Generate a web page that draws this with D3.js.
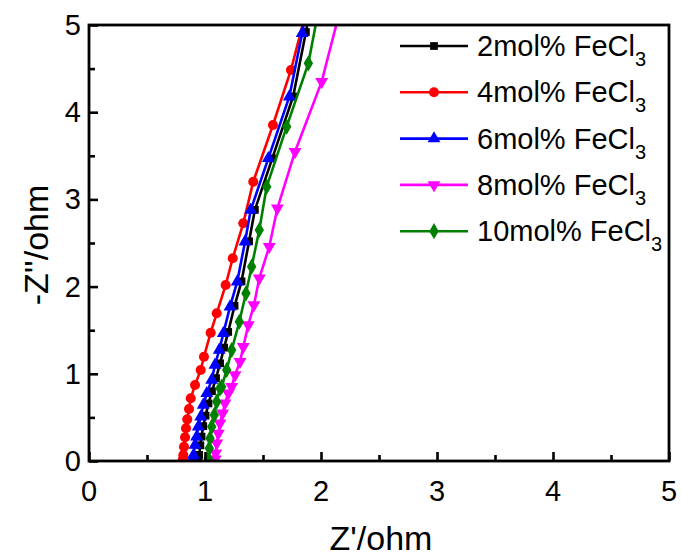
<!DOCTYPE html>
<html><head><meta charset="utf-8">
<script src="https://cdn.jsdelivr.net/npm/d3@7"></script>
<style>body{margin:0;background:#fff}svg{display:block}text{font-family:"Liberation Sans",Arial,sans-serif;fill:#000}</style>
</head><body>
<svg id="c" width="681" height="558"></svg>
<script>
const seriesNames = ["2mol% FeCl", "4mol% FeCl", "6mol% FeCl", "8mol% FeCl", "10mol% FeCl"];
const seriesColors = ["#000000", "#ff0000", "#0000ff", "#ff00ff", "#008000"];
const seriesSymbols = ["square", "circle", "triangle", "triangleDown", "diamond"];
const xTicks = [0, 1, 2, 3, 4, 5];
const yTicks = [0, 1, 2, 3, 4, 5];

// 2mol%
const x2 = [0.945,0.95,0.96,0.97,0.985,1.005,1.03,1.06,1.095,1.13,1.165,1.20,1.255,1.315,1.38,1.43,1.58,1.76,1.87,1.95];
const y2 = [0.02,0.07,0.18,0.28,0.40,0.52,0.66,0.80,0.95,1.12,1.30,1.48,1.78,2.06,2.52,2.88,3.47,4.18,4.92,5.5];
// 4mol%
const x4 = [0.81,0.813,0.819,0.828,0.836,0.847,0.862,0.877,0.914,0.963,0.991,1.049,1.101,1.178,1.239,1.330,1.416,1.586,1.741,1.88];
const y4 = [0.02,0.069,0.164,0.272,0.375,0.478,0.596,0.719,0.872,1.044,1.196,1.471,1.694,2.018,2.325,2.726,3.203,3.853,4.484,5.2];
// 6mol%
const x6 = [0.895,0.901,0.914,0.928,0.942,0.963,0.985,1.015,1.058,1.086,1.123,1.158,1.216,1.278,1.345,1.394,1.546,1.727,1.838,1.90];
const y6 = [0.02,0.069,0.183,0.278,0.393,0.508,0.642,0.776,0.929,1.101,1.273,1.464,1.770,2.056,2.515,2.878,3.471,4.178,4.905,5.4];
// 8mol%
const x8 = [1.088,1.092,1.101,1.115,1.129,1.152,1.172,1.201,1.230,1.259,1.302,1.330,1.373,1.422,1.468,1.554,1.624,1.776,2.006,2.17];
const y8 = [0.02,0.088,0.203,0.317,0.432,0.547,0.662,0.776,0.852,0.986,1.139,1.31,1.56,1.789,2.095,2.458,2.898,3.547,4.35,5.2];
// 10mol%
const x10 = [1.025,1.029,1.037,1.043,1.058,1.080,1.101,1.129,1.144,1.187,1.230,1.296,1.353,1.402,1.468,1.532,1.704,1.891,1.99];
const y10 = [0.0,0.031,0.146,0.26,0.394,0.528,0.680,0.834,0.852,1.044,1.273,1.597,1.923,2.228,2.649,3.146,3.834,4.56,5.25];

const xs = [x2, x4, x6, x8, x10];
const ys = [y2, y4, y6, y8, y10];

const svg = d3.select("#c");
const x = d3.scaleLinear().domain([0, 5]).range([89, 669]);
const y = d3.scaleLinear().domain([0, 5]).range([461, 25]);

svg.append("defs").append("clipPath").attr("id", "clip")
  .append("rect").attr("x", 89).attr("y", 25).attr("width", 580).attr("height", 436);

function symbolPath(kind) {
  switch (kind) {
    case "square": return d3.symbol(d3.symbolSquare, 60)();
    case "circle": return d3.symbol(d3.symbolCircle, 80)();
    case "triangle": return d3.symbol(d3.symbolTriangle, 72)();
    case "triangleDown": return d3.symbol(d3.symbolTriangle, 72)();
    case "diamond": return d3.symbol(d3.symbolDiamond, 76)();
  }
}
function symbolTransform(kind, px, py) {
  return kind === "triangleDown" ? `translate(${px},${py}) rotate(180)` : `translate(${px},${py})`;
}

const plot = svg.append("g").attr("clip-path", "url(#clip)");
const line = d3.line().x(d => x(d[0])).y(d => y(d[1]));
xs.forEach((xa, i) => {
  const pts = xa.map((v, j) => [v, ys[i][j]]);
  const g = plot.append("g");
  g.append("path").datum(pts).attr("d", line).attr("fill", "none")
    .attr("stroke", seriesColors[i]).attr("stroke-width", 2.6);
  g.selectAll("path.m").data(pts).join("path").attr("class", "m")
    .attr("d", symbolPath(seriesSymbols[i]))
    .attr("transform", d => symbolTransform(seriesSymbols[i], x(d[0]), y(d[1])))
    .attr("fill", seriesColors[i]);
});

// frame
svg.append("rect").attr("x", 89).attr("y", 25).attr("width", 580).attr("height", 436)
  .attr("fill", "none").attr("stroke", "#000").attr("stroke-width", 2.8);

// axes ticks (inward)
const xAxis = d3.axisTop(x).tickValues(xTicks).tickSize(9).tickFormat("");
const gx = svg.append("g").attr("transform", "translate(0,461)").call(xAxis);
const xMinor = d3.axisTop(x).tickValues([0.5,1.5,2.5,3.5,4.5]).tickSize(6).tickFormat("");
const gxm = svg.append("g").attr("transform", "translate(0,461)").call(xMinor);
const yAxis = d3.axisRight(y).tickValues(yTicks).tickSize(9).tickFormat("");
const gy = svg.append("g").attr("transform", "translate(89,0)").call(yAxis);
const yMinor = d3.axisRight(y).tickValues([0.5,1.5,2.5,3.5,4.5]).tickSize(6).tickFormat("");
const gym = svg.append("g").attr("transform", "translate(89,0)").call(yMinor);
[gx, gxm, gy, gym].forEach(g => {
  g.select(".domain").remove();
  g.selectAll("line").attr("stroke", "#000").attr("stroke-width", 2.6);
});

// tick labels
svg.append("g").selectAll("text").data(xTicks).join("text")
  .attr("x", d => x(d)).attr("y", 501).attr("text-anchor", "middle")
  .attr("font-size", 29).text(d => d);
svg.append("g").selectAll("text").data(yTicks).join("text")
  .attr("x", 81).attr("y", d => y(d) + 10).attr("text-anchor", "end")
  .attr("font-size", 29).text(d => d);

// axis titles
svg.append("text").attr("x", 381).attr("y", 550).attr("text-anchor", "middle")
  .attr("font-size", 34).text("Z'/ohm");
svg.append("text").attr("transform", "translate(48,245) rotate(-90)").attr("text-anchor", "middle")
  .attr("font-size", 34).text("-Z''/ohm");

// legend
const leg = svg.append("g");
seriesNames.forEach((name, i) => {
  const cy = 46 + i * 46.3;
  leg.append("line").attr("x1", 400).attr("x2", 468).attr("y1", cy).attr("y2", cy)
    .attr("stroke", seriesColors[i]).attr("stroke-width", 2.6);
  leg.append("path").attr("d", symbolPath(seriesSymbols[i]))
    .attr("transform", symbolTransform(seriesSymbols[i], 434, cy)).attr("fill", seriesColors[i]);
  const t = leg.append("text").attr("x", 477).attr("y", cy + 10).attr("font-size", 29);
  t.append("tspan").text(name);
  t.append("tspan").attr("dy", 10).attr("font-size", 20).text("3");
});
</script>
</body></html>
